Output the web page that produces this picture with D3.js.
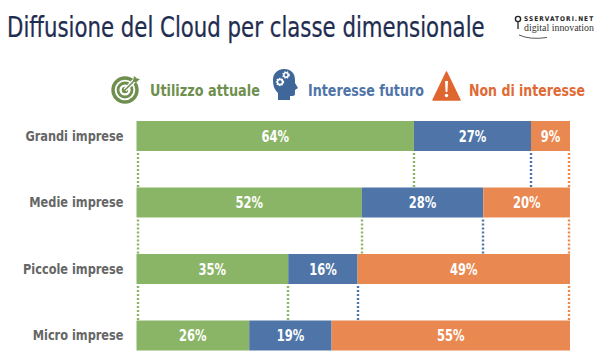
<!DOCTYPE html>
<html><head><meta charset="utf-8">
<script src="https://cdn.jsdelivr.net/npm/d3@7"></script>
<style>html,body{margin:0;padding:0;background:#fff}svg{display:block}</style>
</head><body><svg id="c" width="600" height="360"></svg>
<script>
const categories = ["Grandi imprese","Medie imprese","Piccole imprese","Micro imprese"];
const utilizzo = [64,52,35,26];
const interesse = [27,28,16,19];
const nonInteresse = [9,20,49,55];
const seriesKeys = ["Utilizzo attuale","Interesse futuro","Non di interesse"];
const barColors = ["#8AB566","#4E74A8","#E98850"];
const legendColors = ["#6F8F4F","#4F74A8","#DF6A35"];
const titleText = "Diffusione del Cloud per classe dimensionale";

const font = "'DejaVu Sans Condensed','DejaVu Sans',sans-serif";
const svg = d3.select("#c").style("font-family", font);
const x = d3.scaleLinear().domain([0,100]).range([136.5,570]);
const y = d3.scaleBand().domain(categories).range([121,350.5]).paddingInner(0.549);

// narrow a text horizontally around its anchor point, so its box stays the drawn size
function narrow(sel, k){
  sel.each(function(){
    const t = d3.select(this);
    const px = +t.attr("x") || 0;
    const f = typeof k === "function" ? k(this) : k;
    t.attr("x",0).attr("transform",`translate(${px},0) scale(${f},1)`);
  });
}
const fitTo = w => node => w / node.getComputedTextLength();

const rows = categories.map((c,i)=>({cat:c,[seriesKeys[0]]:utilizzo[i],[seriesKeys[1]]:interesse[i],[seriesKeys[2]]:nonInteresse[i]}));
const stacked = d3.stack().keys(seriesKeys)(rows);

// title
svg.append("text").attr("x",7).attr("y",37).attr("font-size",28).attr("fill","#1F2D50")
  .attr("stroke","#1F2D50").attr("stroke-width",0.25).text(titleText).call(narrow, fitTo(478));

// logo
const logo = svg.append("g");
logo.append("circle").attr("cx",518).attr("cy",19).attr("r",2.6).attr("fill","none").attr("stroke","#222").attr("stroke-width",1.4);
logo.append("path").attr("d","M518 22V29").attr("stroke","#222").attr("stroke-width",1.3);
logo.append("text").attr("x",524).attr("y",20.5).attr("font-size",6.5).attr("font-weight","bold").attr("fill","#222")
  .attr("letter-spacing",1.05).text("SSERVATORI.NET");
logo.append("text").attr("x",524).attr("y",31.5).attr("font-family","'Liberation Serif',serif").attr("font-size",9.5).attr("fill","#333")
  .text("digital innovation").call(narrow, fitTo(70));
logo.append("path").attr("d","M519 35Q530 40 547 37.5").attr("fill","none").attr("stroke","#444").attr("stroke-width",0.9);

// legend text
const legendX = [150,308,469], legendW = [110,116,116];
svg.append("g").selectAll("text").data(seriesKeys).join("text")
  .attr("x",(d,i)=>legendX[i]).attr("y",96).attr("font-size",16.5).attr("font-weight","bold")
  .attr("fill",(d,i)=>legendColors[i]).text(d=>d)
  .each(function(d,i){ d3.select(this).call(narrow, fitTo(legendW[i])); });

// legend icons
const target = svg.append("g").attr("transform","translate(125,90)");
[[12,3.4],[7,2.8]].forEach(([r,w])=>target.append("circle").attr("r",r).attr("fill","none").attr("stroke",legendColors[0]).attr("stroke-width",w));
target.append("circle").attr("r",3.2).attr("fill",legendColors[0]);
target.append("path").attr("d","M0 0L11 -11").attr("stroke","#fff").attr("stroke-width",4);
target.append("path").attr("d","M0 0L11 -11").attr("stroke",legendColors[0]).attr("stroke-width",1.6);
target.append("path").attr("d","M8 -9L9 -14L12 -11.5L15 -11L11 -7.5Z").attr("fill",legendColors[0]);

const head = svg.append("g");
head.append("path").attr("fill","#3F6799")
  .attr("d","M278 100V93C274 89 273 85 273 80C273 73 278 69 284 69C291 69 295 73 295 80L295 83L298 88L295 90V94C295 96 293 96 290 96V100Z");
[[280,82,2.6],[286,75,2.2]].forEach(([cx,cy,r])=>{
  head.append("circle").attr("cx",cx).attr("cy",cy).attr("r",r).attr("fill","none").attr("stroke","#fff").attr("stroke-width",1.6);
  head.append("circle").attr("cx",cx).attr("cy",cy).attr("r",r+1).attr("fill","none").attr("stroke","#fff").attr("stroke-width",1.2).attr("stroke-dasharray","1.3 1.3");
});

const warn = svg.append("g");
warn.append("path").attr("d","M446.5 72L460 100H433Z").attr("fill","#E0662F").attr("stroke","#E0662F").attr("stroke-width",1.5).attr("stroke-linejoin","round");
warn.append("path").attr("d","M445 81H448L447.4 92H445.6Z").attr("fill","#fff");
warn.append("circle").attr("cx",446.5).attr("cy",95.5).attr("r",1.7).attr("fill","#fff");

// connectors
const connectors = svg.append("g").attr("fill","none").attr("stroke-width",2.4).attr("stroke-dasharray","2 2");
const conn = categories.slice(0,-1);
connectors.selectAll("line.left").data(conn).join("line").attr("class","left")
  .attr("x1",138).attr("x2",138).attr("y1",d=>y(d)+y.bandwidth()+2).attr("y2",(d,i)=>y(categories[i+1]))
  .attr("stroke",barColors[0]);
stacked.forEach((s,k)=>{
  connectors.selectAll("line.s"+k).data(s.slice(0,-1)).join("line").attr("class","s"+k)
    .attr("x1",d=>Math.min(569,Math.round(x(d[1])))).attr("x2",d=>Math.min(569,Math.round(x(d[1]))))
    .attr("y1",d=>y(d.data.cat)+y.bandwidth()+2).attr("y2",(d,i)=>y(categories[i+1]))
    .attr("stroke",barColors[k]);
});

// bars
const layers = svg.append("g").selectAll("g").data(stacked).join("g").attr("fill",(d,i)=>barColors[i]);
layers.selectAll("rect").data(d=>d).join("rect")
  .attr("x",d=>x(d[0])).attr("width",d=>x(d[1])-x(d[0]))
  .attr("y",d=>y(d.data.cat)).attr("height",y.bandwidth());
const tx = svg.append("g").attr("text-anchor","middle").attr("fill","#fff").attr("font-size",16).attr("font-weight","bold");
stacked.forEach(s=>{
  tx.selectAll(null).data(s).join("text")
    .attr("x",d=>(x(d[0])+x(d[1]))/2).attr("y",d=>y(d.data.cat)+y.bandwidth()/2+6)
    .text(d=>(d[1]-d[0])+"%").call(narrow,0.8);
});

// category axis
const ax = svg.append("g").attr("transform","translate(136.5,0)").call(d3.axisLeft(y).tickSize(0).tickPadding(13));
ax.select(".domain").remove();
ax.selectAll("text").attr("font-family",font).attr("font-size",14.5).attr("font-weight","bold").attr("fill","#666").call(narrow,0.87);
</script></body></html>
